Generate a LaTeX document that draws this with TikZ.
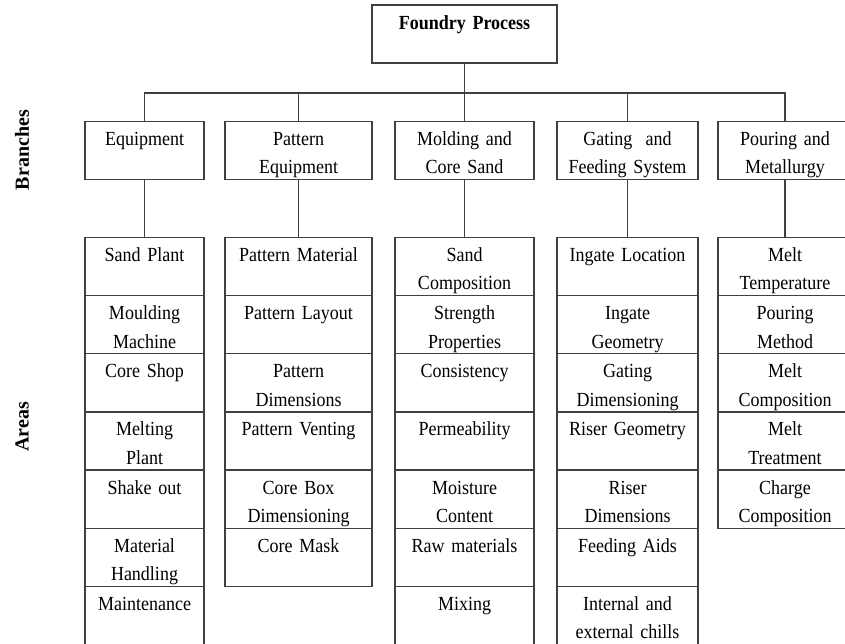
\documentclass[tikz,border=0pt]{standalone}
\usepackage{fontspec}
\setmainfont{Liberation Serif}[FakeStretch=0.9,WordSpace=0.8]
\newfontfamily\sidefont{Liberation Serif}
\usetikzlibrary{positioning}

\begin{document}
\begin{tikzpicture}[x=0.75pt,y=-0.75pt,
        box/.style={draw=black!75,line width=0.9pt,inner sep=0pt,outer sep=0pt,align=center,
            text height=18pt,text depth=25.6pt,font=\fontsize{15}{21.3}\selectfont},
        col/.style={box,text width=#1},
        link/.style={draw=black!75,line width=0.9pt},
        side/.style={rotate=90,font=\sidefont\bfseries\fontsize{15}{18}\selectfont}]
    \useasboundingbox (0,0) rectangle (845,643);

    \node[box,anchor=north,text width=138.75pt,text depth=25.5pt,font=\fontsize{15}{21.3}\selectfont\bfseries] (root) at (464.5,5) {Foundry Process};

    \node[side] (branches) at (22,150) {Branches};
    \node[side] (areas) at (22,427) {Areas};

    % branches
    \node[col=89.25pt,anchor=north] (b1) at (144.5,121.5) {Equipment};
    \node[col=110.25pt,anchor=north] (b2) at (298.5,121.5) {Pattern\\Equipment};
    \node[col=104.25pt,anchor=north] (b3) at (464.5,121.5) {Molding and\\Core Sand};
    \node[col=105.75pt,anchor=north] (b4) at (627.5,121.5) {Gating\ \ and\\Feeding System};
    \node[col=100.5pt,anchor=north] (b5) at (785,121.5) {Pouring and\\Metallurgy};

    % areas
    \node[col=89.25pt,anchor=north] (c1r1) at (144.5,237.5) {Sand Plant};
    \node[col=89.25pt,below=0pt of c1r1] (c1r2) {Moulding\\Machine};
    \node[col=89.25pt,below=0pt of c1r2] (c1r3) {Core Shop};
    \node[col=89.25pt,below=0pt of c1r3] (c1r4) {Melting\\Plant};
    \node[col=89.25pt,below=0pt of c1r4] (c1r5) {Shake out};
    \node[col=89.25pt,below=0pt of c1r5] (c1r6) {Material\\Handling};
    \node[col=89.25pt,below=0pt of c1r6] (c1r7) {Maintenance};

    \node[col=110.25pt,anchor=north] (c2r1) at (298.5,237.5) {Pattern Material};
    \node[col=110.25pt,below=0pt of c2r1] (c2r2) {Pattern Layout};
    \node[col=110.25pt,below=0pt of c2r2] (c2r3) {Pattern\\Dimensions};
    \node[col=110.25pt,below=0pt of c2r3] (c2r4) {Pattern Venting};
    \node[col=110.25pt,below=0pt of c2r4] (c2r5) {Core Box\\Dimensioning};
    \node[col=110.25pt,below=0pt of c2r5] (c2r6) {Core Mask};

    \node[col=104.25pt,anchor=north] (c3r1) at (464.5,237.5) {Sand\\Composition};
    \node[col=104.25pt,below=0pt of c3r1] (c3r2) {Strength\\Properties};
    \node[col=104.25pt,below=0pt of c3r2] (c3r3) {Consistency};
    \node[col=104.25pt,below=0pt of c3r3] (c3r4) {Permeability};
    \node[col=104.25pt,below=0pt of c3r4] (c3r5) {Moisture\\Content};
    \node[col=104.25pt,below=0pt of c3r5] (c3r6) {Raw materials};
    \node[col=104.25pt,below=0pt of c3r6] (c3r7) {Mixing};

    \node[col=105.75pt,anchor=north] (c4r1) at (627.5,237.5) {Ingate Location};
    \node[col=105.75pt,below=0pt of c4r1] (c4r2) {Ingate\\Geometry};
    \node[col=105.75pt,below=0pt of c4r2] (c4r3) {Gating\\Dimensioning};
    \node[col=105.75pt,below=0pt of c4r3] (c4r4) {Riser Geometry};
    \node[col=105.75pt,below=0pt of c4r4] (c4r5) {Riser\\Dimensions};
    \node[col=105.75pt,below=0pt of c4r5] (c4r6) {Feeding Aids};
    \node[col=105.75pt,below=0pt of c4r6] (c4r7) {Internal and\\external chills};

    \node[col=100.5pt,anchor=north] (c5r1) at (785,237.5) {Melt\\Temperature};
    \node[col=100.5pt,below=0pt of c5r1] (c5r2) {Pouring\\Method};
    \node[col=100.5pt,below=0pt of c5r2] (c5r3) {Melt\\Composition};
    \node[col=100.5pt,below=0pt of c5r3] (c5r4) {Melt\\Treatment};
    \node[col=100.5pt,below=0pt of c5r4] (c5r5) {Charge\\Composition};

    \coordinate (bus) at (464.5,93);
    \foreach \i in {1,...,5}{
        \draw[link] (root.south) |- (bus -| b\i.north) -- (b\i.north);
        \draw[link] (b\i.south) -- (c\i r1.north);
    }
\end{tikzpicture}
\end{document}
